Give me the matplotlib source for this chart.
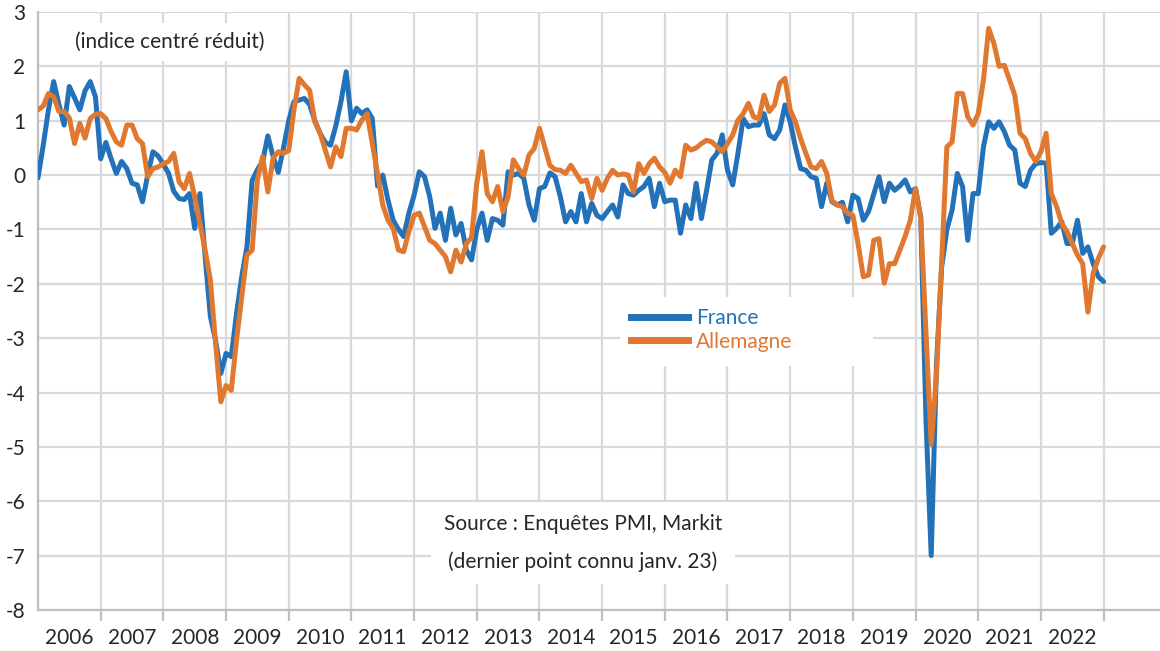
import numpy as np
import matplotlib.pyplot as plt
from matplotlib.lines import Line2D
from matplotlib.patches import Rectangle

plt.rcParams['font.family'] = ['Lato', 'DejaVu Sans']
plt.rcParams['axes.unicode_minus'] = False

# indices mensuels, janv. 2006 -> janv. 2023
france = [
    -0.05, 0.55, 1.2, 1.72, 1.3, 0.92, 1.63, 1.42, 1.2, 1.55, 1.72, 1.44,      # 2006
    0.3, 0.6, 0.3, 0.03, 0.25, 0.12, -0.15, -0.18, -0.49, 0.0, 0.43, 0.35,     # 2007
    0.2, 0.03, -0.3, -0.43, -0.45, -0.34, -0.98, -0.34, -1.5, -2.6, -3.04, -3.65,  # 2008
    -3.28, -3.34, -2.55, -1.87, -1.32, -0.1, 0.1, 0.25, 0.72, 0.35, 0.05, 0.5,  # 2009
    1.0, 1.35, 1.38, 1.41, 1.3, 1.0, 0.77, 0.6, 0.55, 0.9, 1.35, 1.9,          # 2010
    1.0, 1.23, 1.13, 1.2, 1.04, -0.2, 0.0, -0.46, -0.83, -1.0, -1.13, -0.7,    # 2011
    -0.37, 0.06, -0.03, -0.4, -0.98, -0.7, -1.2, -0.61, -1.1, -0.89, -1.38, -1.56,  # 2012
    -1.0, -0.7, -1.2, -0.8, -0.83, -0.92, 0.06, 0.0, 0.03, -0.06, -0.55, -0.83,  # 2013
    -0.25, -0.21, 0.04, -0.03, -0.4, -0.86, -0.67, -0.86, -0.34, -0.86, -0.52, -0.74,  # 2014
    -0.8, -0.67, -0.55, -0.77, -0.18, -0.34, -0.37, -0.28, -0.21, -0.06, -0.58, -0.15,  # 2015
    -0.49, -0.46, -0.46, -1.07, -0.55, -0.8, -0.15, -0.8, -0.28, 0.28, 0.4, 0.74,  # 2016
    0.09, -0.18, 0.4, 1.04, 0.89, 0.92, 0.92, 1.13, 0.74, 0.67, 0.83, 1.29,    # 2017
    0.98, 0.52, 0.12, 0.09, -0.03, -0.06, -0.58, -0.15, -0.49, -0.55, -0.5, -0.86,  # 2018
    -0.37, -0.43, -0.83, -0.67, -0.35, -0.03, -0.49, -0.15, -0.28, -0.2, -0.09, -0.31,  # 2019
    -0.25, -0.77, -4.5, -7.0, -3.5, -1.69, -1.0, -0.64, 0.03, -0.21, -1.2, -0.34,  # 2020
    -0.34, 0.52, 0.98, 0.86, 0.98, 0.8, 0.55, 0.46, -0.15, -0.21, 0.09, 0.21,  # 2021
    0.23, 0.22, -1.07, -0.98, -0.86, -1.26, -1.26, -0.83, -1.44, -1.32, -1.63, -1.87,  # 2022
    -1.96,                                                                     # 2023
]

allemagne = [
    1.2, 1.27, 1.5, 1.44, 1.17, 1.17, 1.05, 0.58, 0.95, 0.68, 1.04, 1.12,      # 2006
    1.13, 1.04, 0.8, 0.61, 0.55, 0.92, 0.92, 0.67, 0.58, -0.03, 0.12, 0.15,    # 2007
    0.21, 0.25, 0.4, -0.12, -0.25, 0.03, -0.4, -0.89, -1.38, -1.93, -3.1, -4.17,  # 2008
    -3.87, -3.96, -3.04, -2.24, -1.47, -1.38, -0.09, 0.34, -0.31, 0.31, 0.43, 0.4,  # 2009
    0.45, 1.2, 1.78, 1.66, 1.56, 0.98, 0.77, 0.46, 0.15, 0.52, 0.34, 0.86,     # 2010
    0.86, 0.83, 1.01, 1.13, 0.58, 0.03, -0.55, -0.83, -0.98, -1.38, -1.41, -1.04,  # 2011
    -0.74, -0.7, -0.95, -1.2, -1.26, -1.38, -1.5, -1.78, -1.38, -1.6, -1.26, -1.15,  # 2012
    -0.15, 0.43, -0.34, -0.49, -0.21, -0.67, -0.4, 0.28, 0.12, 0.0, 0.37, 0.49,  # 2013
    0.86, 0.52, 0.18, 0.1, 0.09, 0.03, 0.18, 0.03, -0.12, -0.09, -0.43, -0.06,  # 2014
    -0.28, -0.06, 0.09, 0.0, 0.02, 0.0, -0.31, 0.21, 0.03, 0.21, 0.31, 0.15,   # 2015
    0.05, -0.15, 0.09, -0.03, 0.55, 0.46, 0.5, 0.58, 0.64, 0.61, 0.52, 0.43,   # 2016
    0.58, 0.74, 1.01, 1.13, 1.32, 1.07, 1.04, 1.47, 1.17, 1.29, 1.69, 1.78,    # 2017
    1.2, 0.98, 0.67, 0.4, 0.15, 0.12, 0.25, 0.03, -0.47, -0.55, -0.58, -0.7,   # 2018
    -0.74, -1.26, -1.87, -1.84, -1.2, -1.17, -1.99, -1.63, -1.63, -1.38, -1.13, -0.83,  # 2019
    -0.25, -0.8, -2.9, -4.95, -3.7, -1.6, 0.52, 0.61, 1.5, 1.5, 1.07, 0.92,    # 2020
    1.13, 1.75, 2.7, 2.42, 2.0, 2.02, 1.75, 1.47, 0.77, 0.67, 0.4, 0.25,       # 2021
    0.43, 0.77, -0.34, -0.58, -0.89, -1.04, -1.26, -1.47, -1.63, -2.52, -1.81, -1.53,  # 2022
    -1.32,                                                                     # 2023
]

years = list(range(2006, 2023))
y_ticks = list(range(-8, 4))

blue = '#2371B9'
orange = '#E1782F'
grid_col = '#D9D9D9'
axis_col = '#BFBFBF'
text_col = '#262626'

t = 2006 + np.arange(len(france)) / 12

fig = plt.figure(figsize=(11.6, 6.51), dpi=100)
ax = fig.add_axes([38 / 1160, 41 / 651, 1 - 38 / 1160, 598 / 651])

ax.plot(t, france, color=blue, lw=3.6, solid_joinstyle='round', solid_capstyle='round', zorder=3)
ax.plot(t, allemagne, color=orange, lw=3.6, solid_joinstyle='round', solid_capstyle='round', zorder=4)

ax.set_xlim(2006, 2023.9)
ax.set_ylim(-8, 3)

# grille
ax.set_yticks(y_ticks)
ax.set_xticks(years[1:] + [2023])
ax.set_xticks([y + 0.5 for y in years], minor=True)
ax.set_xticklabels([], minor=False)
ax.set_xticklabels([str(y) for y in years], minor=True)
ax.grid(True, which='major', color=grid_col, lw=1.6, zorder=0)
ax.set_axisbelow(True)

ax.tick_params(axis='x', which='major', length=8, width=1.6, color=axis_col, direction='out')
ax.tick_params(axis='x', which='minor', length=0, pad=13, labelsize=15, labelcolor=text_col)
ax.tick_params(axis='y', length=0, pad=9, labelsize=15, labelcolor=text_col)

for side in ['top', 'right']:
    ax.spines[side].set_visible(False)
for side in ['left', 'bottom']:
    ax.spines[side].set_color(axis_col)
    ax.spines[side].set_linewidth(1.6)

# étiquettes
ax.text(170 / 1160, 1 - 42 / 651, '(indice centré réduit)', transform=fig.transFigure,
        ha='center', va='center', fontsize=15, color=text_col, zorder=6,
        bbox=dict(fc='white', ec='none', boxstyle='square,pad=0.45'))

ax.text(583 / 1160, 1 - 543 / 651, 'Source : Enquêtes PMI, Markit\n(dernier point connu janv. 23)',
        transform=fig.transFigure, ha='center', va='center', fontsize=15, color=text_col,
        linespacing=2.0, zorder=6,
        bbox=dict(fc='white', ec='none', boxstyle='square,pad=0.6'))

# fond blanc de la légende
ax.add_patch(Rectangle((620 / 1160, 1 - 366 / 651), 253 / 1160, 69 / 651,
                       transform=fig.transFigure, fc='white', ec='none', zorder=5))

handles = [Line2D([], [], color=blue, lw=5), Line2D([], [], color=orange, lw=5)]
leg = ax.legend(handles, ['France', 'Allemagne'], loc='upper left',
                bbox_to_anchor=(620 / 1160, 1 - 297 / 651), bbox_transform=fig.transFigure,
                fontsize=15, frameon=False,
                handlelength=2.7, handletextpad=0.4, labelspacing=0.15, borderpad=0.55,
                borderaxespad=0)
leg.set_zorder(6)
for txt, c in zip(leg.get_texts(), [blue, orange]):
    txt.set_color(c)

fig.savefig('out.png', dpi=100)
